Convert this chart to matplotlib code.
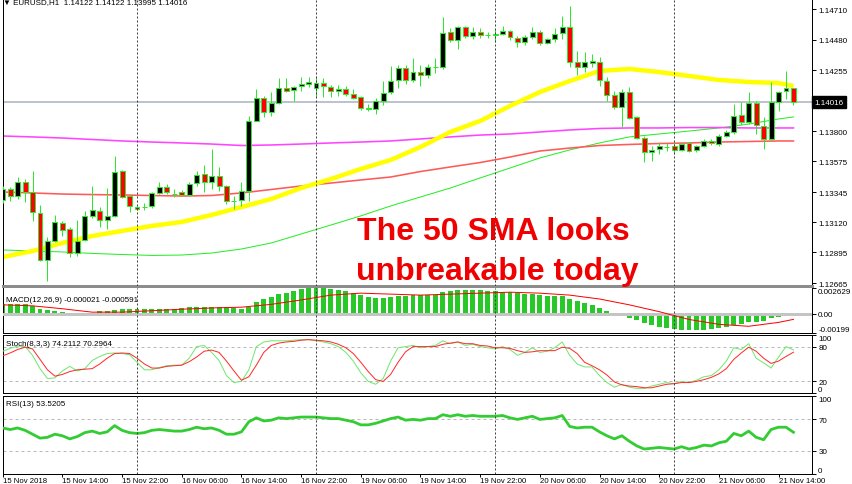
import numpy as np
import matplotlib
matplotlib.use('Agg')
import matplotlib.pyplot as plt
from matplotlib.transforms import blended_transform_factory

plt.rcParams['font.family'] = ['Liberation Sans', 'DejaVu Sans']

W, H = 852, 485

## ローソク足 EURUSD H1 (15 Nov 06:00 - 21 Nov 16:00)
opens = [
    1.13285, 1.13368, 1.13315, 1.13420, 1.13345, 1.13189, 1.12838, 1.12980, 1.13115, 1.13070,
    1.12890, 1.12987, 1.13167, 1.13204, 1.13137, 1.13167, 1.13502, 1.13315, 1.13233, 1.13233,
    1.13241, 1.13338, 1.13382, 1.13330, 1.13345, 1.13323, 1.13412, 1.13480, 1.13420, 1.13465,
    1.13390, 1.13278, 1.13285, 1.13353, 1.13875, 1.14047, 1.13942, 1.14009, 1.14121, 1.14106,
    1.14136, 1.14151, 1.14121, 1.14158, 1.14129, 1.14099, 1.14114, 1.14076, 1.14054, 1.13972,
    1.13964, 1.14024, 1.14091, 1.14181, 1.14270, 1.14181, 1.14240, 1.14218, 1.14278, 1.14278,
    1.14539, 1.14479, 1.14576, 1.14509, 1.14539, 1.14516, 1.14520, 1.14524, 1.14546, 1.14494,
    1.14464, 1.14502, 1.14539, 1.14457, 1.14487, 1.14531, 1.14576, 1.14315, 1.14278, 1.14307,
    1.14315, 1.14173, 1.14069, 1.13979, 1.14091, 1.13905, 1.13748, 1.13644, 1.13666, 1.13681,
    1.13689, 1.13659, 1.13711, 1.13659, 1.13689, 1.13726, 1.13703, 1.13763, 1.13793, 1.13920,
    1.13867, 1.14009, 1.13838, 1.13741, 1.14017, 1.14099, 1.14122]
highs = [
    1.13390, 1.13382, 1.13457, 1.13442, 1.13502, 1.13248, 1.13010, 1.13174, 1.13129, 1.13085,
    1.13137, 1.13204, 1.13390, 1.13233, 1.13375, 1.13614, 1.13509, 1.13330, 1.13241, 1.13263,
    1.13345, 1.13420, 1.13405, 1.13368, 1.13360, 1.13420, 1.13502, 1.13547, 1.13666, 1.13532,
    1.13397, 1.13315, 1.13420, 1.13912, 1.14114, 1.14061, 1.14091, 1.14196, 1.14196, 1.14136,
    1.14203, 1.14203, 1.14211, 1.14196, 1.14143, 1.14143, 1.14136, 1.14114, 1.14061, 1.14002,
    1.14047, 1.14173, 1.14285, 1.14293, 1.14293, 1.14345, 1.14293, 1.14300, 1.14345, 1.14651,
    1.14569, 1.14584, 1.14584, 1.14576, 1.14569, 1.14539, 1.14561, 1.14584, 1.14554, 1.14509,
    1.14516, 1.14576, 1.14554, 1.14494, 1.14569, 1.14658, 1.14733, 1.14397, 1.14390, 1.14375,
    1.14352, 1.14203, 1.14099, 1.14114, 1.14129, 1.13912, 1.13763, 1.13689, 1.13718, 1.13711,
    1.13718, 1.13718, 1.13718, 1.13696, 1.13741, 1.13741, 1.13778, 1.13808, 1.14002, 1.14017,
    1.14091, 1.14024, 1.13905, 1.14166, 1.14099, 1.14248, 1.14122]
lows = [
    1.13263, 1.13278, 1.13293, 1.13271, 1.13129, 1.12830, 1.12681, 1.12972, 1.13017, 1.12860,
    1.12868, 1.12980, 1.13152, 1.13085, 1.13070, 1.13159, 1.13300, 1.13196, 1.13211, 1.13211,
    1.13226, 1.13330, 1.13330, 1.13308, 1.13315, 1.13315, 1.13390, 1.13345, 1.13368, 1.13353,
    1.13256, 1.13219, 1.13241, 1.13278, 1.13875, 1.13905, 1.13912, 1.14002, 1.14091, 1.14024,
    1.14099, 1.14129, 1.14054, 1.14054, 1.14054, 1.14061, 1.14061, 1.14039, 1.13957, 1.13949,
    1.13927, 1.13994, 1.14076, 1.14121, 1.14151, 1.14166, 1.14136, 1.14196, 1.14233, 1.14263,
    1.14464, 1.14412, 1.14494, 1.14487, 1.14494, 1.14494, 1.14464, 1.14516, 1.14479, 1.14427,
    1.14442, 1.14487, 1.14442, 1.14449, 1.14464, 1.14487, 1.14278, 1.14218, 1.14240, 1.14278,
    1.14136, 1.14024, 1.13964, 1.13830, 1.13890, 1.13741, 1.13569, 1.13577, 1.13629, 1.13651,
    1.13629, 1.13651, 1.13644, 1.13644, 1.13681, 1.13696, 1.13689, 1.13756, 1.13778, 1.13845,
    1.13852, 1.13778, 1.13666, 1.13726, 1.13949, 1.14039, 1.13995]
closes = [
    1.13368, 1.13315, 1.13420, 1.13345, 1.13196, 1.12838, 1.12980, 1.13122, 1.13062, 1.12890,
    1.12980, 1.13167, 1.13211, 1.13137, 1.13167, 1.13494, 1.13308, 1.13241, 1.13219, 1.13233,
    1.13338, 1.13382, 1.13345, 1.13330, 1.13323, 1.13405, 1.13472, 1.13420, 1.13465, 1.13390,
    1.13278, 1.13278, 1.13353, 1.13875, 1.14047, 1.13942, 1.14009, 1.14121, 1.14099, 1.14129,
    1.14151, 1.14166, 1.14158, 1.14136, 1.14099, 1.14114, 1.14076, 1.14047, 1.13972, 1.13968,
    1.14024, 1.14084, 1.14173, 1.14270, 1.14181, 1.14240, 1.14218, 1.14278, 1.14281, 1.14531,
    1.14479, 1.14576, 1.14509, 1.14539, 1.14516, 1.14516, 1.14524, 1.14546, 1.14502, 1.14464,
    1.14502, 1.14539, 1.14457, 1.14487, 1.14524, 1.14576, 1.14315, 1.14278, 1.14315, 1.14322,
    1.14181, 1.14069, 1.13979, 1.14091, 1.13897, 1.13748, 1.13644, 1.13659, 1.13689, 1.13681,
    1.13659, 1.13703, 1.13651, 1.13689, 1.13726, 1.13711, 1.13763, 1.13793, 1.13912, 1.13867,
    1.14009, 1.13845, 1.13741, 1.14017, 1.14091, 1.14121, 1.14016]

time_labels = ['15 Nov 2018', '15 Nov 14:00', '15 Nov 22:00', '16 Nov 06:00', '16 Nov 14:00',
               '16 Nov 22:00', '19 Nov 06:00', '19 Nov 14:00', '19 Nov 22:00', '20 Nov 06:00',
               '20 Nov 14:00', '20 Nov 22:00', '21 Nov 06:00', '21 Nov 14:00']
label_bars = list(range(0, 105, 8))
day_breaks = [18, 42, 66, 90]   # 日付の区切り

## 移動平均 (4本おきに読み取り)
ma_bars = [0, 4, 8, 12, 16, 20, 24, 28, 32, 36, 40, 44, 48, 52, 56, 60, 64, 68, 72, 76,
           80, 84, 88, 92, 96, 100, 104, 106]
ma_yellow = [1.12860, 1.12905, 1.12965, 1.13017, 1.13055, 1.13092, 1.13122, 1.13174, 1.13233, 1.13293,
             1.13375, 1.13442, 1.13517, 1.13584, 1.13681, 1.13793, 1.13875, 1.13987, 1.14091, 1.14173,
             1.14248, 1.14263, 1.14240, 1.14211, 1.14181, 1.14166, 1.14158, 1.14136]
ma_magenta = [1.13763, 1.13756, 1.13748, 1.13737, 1.13726, 1.13718, 1.13711, 1.13703, 1.13692, 1.13696,
              1.13703, 1.13711, 1.13718, 1.13726, 1.13741, 1.13756, 1.13770, 1.13778, 1.13793, 1.13808,
              1.13819, 1.13823, 1.13823, 1.13826, 1.13826, 1.13823, 1.13823, 1.13823]
ma_red = [1.13345, 1.13338, 1.13330, 1.13326, 1.13323, 1.13319, 1.13315, 1.13319, 1.13338, 1.13364,
          1.13390, 1.13412, 1.13435, 1.13457, 1.13498, 1.13532, 1.13565, 1.13606, 1.13651, 1.13673,
          1.13692, 1.13700, 1.13707, 1.13711, 1.13718, 1.13722, 1.13726, 1.13726]
ma_green = [1.12913, 1.12905, 1.12898, 1.12887, 1.12879, 1.12872, 1.12875, 1.12890, 1.12920, 1.12965,
            1.13032, 1.13099, 1.13167, 1.13241, 1.13308, 1.13375, 1.13450, 1.13524, 1.13599, 1.13659,
            1.13711, 1.13756, 1.13778, 1.13800, 1.13823, 1.13852, 1.13890, 1.13905]

price_ticks = [1.14710, 1.14480, 1.14255, 1.13800, 1.13575, 1.13345, 1.13120, 1.12895, 1.12665]
last_price = 1.14016
price_range = (1.12644, 1.14785)

## MACD(12,26,9)
macd_main = [
    0.00101, 0.00101, 0.00101, 0.00101, 0.00080, 0.00045, 0.00040, 0.00027, 0.00015, 0.00005,
    0.00002, 0.00005, 0.00010, 0.00025, 0.00027, 0.00038, 0.00045, 0.00045, 0.00045, 0.00045,
    0.00045, 0.00045, 0.00048, 0.00048, 0.00055, 0.00065, 0.00070, 0.00070, 0.00070, 0.00070,
    0.00065, 0.00055, 0.00045, 0.00070, 0.00120, 0.00145, 0.00170, 0.00200, 0.00210, 0.00230,
    0.00250, 0.00260, 0.00263, 0.00260, 0.00250, 0.00240, 0.00230, 0.00210, 0.00190, 0.00170,
    0.00160, 0.00160, 0.00170, 0.00180, 0.00180, 0.00190, 0.00190, 0.00190, 0.00190, 0.00220,
    0.00230, 0.00240, 0.00240, 0.00240, 0.00240, 0.00230, 0.00230, 0.00220, 0.00220, 0.00210,
    0.00200, 0.00200, 0.00190, 0.00180, 0.00180, 0.00180, 0.00150, 0.00130, 0.00110, 0.00090,
    0.00060, 0.00030, 0.00000, -0.00010, -0.00040, -0.00070, -0.00100, -0.00120, -0.00140, -0.00150,
    -0.00160, -0.00170, -0.00170, -0.00170, -0.00170, -0.00160, -0.00150, -0.00140, -0.00120, -0.00110,
    -0.00090, -0.00090, -0.00080, -0.00050, -0.00030, -0.00010, -0.000021]
macd_signal = [0.00090, 0.00080, 0.00050, 0.00015, 0.00015, 0.00030, 0.00045, 0.00058, 0.00066, 0.00095,
               0.00140, 0.00190, 0.00210, 0.00200, 0.00190, 0.00200, 0.00210, 0.00220, 0.00210, 0.00190,
               0.00150, 0.00090, 0.00020, -0.00060, -0.00110, -0.00130, -0.00090, -0.000591]
macd_range = (-0.00199, 0.002629)

## Stoch(8,3,3)
stoch_k = [72, 77, 81, 80, 65, 42, 25, 26, 38, 46,
           38, 42, 56, 63, 68, 69, 68, 66, 53, 40,
           40, 44, 47, 48, 48, 60, 80, 82, 70, 56,
           30, 18, 20, 40, 80, 88, 90, 90, 90, 91,
           92, 92, 90, 88, 85, 80, 70, 55, 35, 20,
           15, 25, 55, 78, 80, 82, 78, 80, 82, 90,
           85, 88, 82, 84, 80, 78, 76, 80, 75, 65,
           70, 78, 70, 72, 78, 88, 65, 50, 45, 45,
           30, 18, 10, 15, 10, 8, 8, 12, 15, 18,
           16, 20, 18, 22, 28, 30, 40, 55, 78, 75,
           85, 60, 52, 43, 62, 80, 74.2112]
stoch_d = [64, 69, 75, 79, 76, 58, 40, 29, 32, 37,
           40, 41, 42, 50, 60, 68, 69, 68, 60, 50,
           43, 43, 46, 47, 48, 54, 62, 72, 74, 70,
           55, 38, 22, 28, 48, 70, 82, 86, 88, 89,
           91, 92, 91, 90, 88, 84, 78, 68, 53, 37,
           23, 20, 32, 53, 71, 80, 80, 80, 80, 84,
           86, 88, 85, 85, 82, 81, 78, 78, 77, 73,
           70, 71, 73, 73, 73, 79, 77, 68, 53, 47,
           40, 31, 19, 14, 12, 11, 9, 9, 12, 15,
           16, 18, 18, 20, 23, 27, 33, 42, 58, 69,
           79, 72, 60, 51, 55, 63, 70.2964]

## RSI(13)
rsi = [59, 57, 59, 56, 51, 46, 47, 51, 49, 45,
       48, 53, 55, 52, 54, 62, 56, 53, 52, 53,
       56, 57, 56, 55, 55, 57, 60, 58, 59, 56,
       51, 51, 54, 67, 72, 68, 69, 72, 71, 72,
       73, 73, 73, 72, 71, 71, 69, 67, 63, 63,
       65, 68, 71, 73, 69, 70, 69, 71, 71, 76,
       74, 76, 74, 75, 74, 74, 74, 75, 72, 70,
       72, 74, 70, 71, 72, 75, 61, 59, 60, 60,
       54, 49, 45, 49, 42, 36, 32, 33, 34, 33,
       32, 35, 32, 34, 37, 36, 40, 42, 52, 49,
       55, 47, 44, 57, 60, 60, 53.5205]

# 色
WICK = '#2ee82e'
BEAR = '#ff0000'
BULL = '#000000'
PX = 0.72  # 1px を pt に
FS = 5.8   # 軸ラベルの文字サイズ

fig = plt.figure(figsize=(W / 100, H / 100), dpi=100)


def panel(y0, y1, x0=2.5, x1=812):
    """ピクセル座標 (上から) でパネルを作る"""
    ax = fig.add_axes([x0 / W, 1 - y1 / H, (x1 - x0) / W, (y1 - y0) / H])
    ax.set_xlim((x0 - 2.7) / 7.46, (x1 - 2.7) / 7.46)
    ax.yaxis.tick_right()
    ax.tick_params(axis='y', direction='out', length=3, width=0.7, labelsize=FS, pad=1.5)
    ax.set_xticks([])
    for s in ax.spines.values():
        s.set_linewidth(1 * PX)
    for b in day_breaks:
        ax.axvline(b, color='#404040', lw=1 * PX, ls=(0, (2, 2)), zorder=6)
    return ax


def ftext(px, py, s, **kw):
    fig.text(px / W, 1 - py / H, s, **kw)


# --- メインチャート
ax = panel(0, 287)
ax.set_ylim(*price_range)
ax.spines['top'].set_visible(False)
ax.spines['bottom'].set_color('#8c8c8c')
ax.spines['bottom'].set_linewidth(3 * PX)

ax.axhline(last_price, color='#a8b0bc', lw=1.5 * PX, zorder=1)
ax.plot(ma_bars, ma_green, color='#22ee22', lw=1 * PX, zorder=2)
ax.plot(ma_bars, ma_red, color='#ff5a5a', lw=1.6 * PX, zorder=2)
ax.plot(ma_bars, ma_magenta, color='#ff44ff', lw=1.6 * PX, zorder=2)
ax.plot(ma_bars, ma_yellow, color='#ffff00', lw=4.5 * PX, zorder=2, solid_capstyle='butt')

x = np.arange(len(opens))
o, h, l, c = (np.array(v) for v in (opens, highs, lows, closes))
up = c >= o
ax.vlines(x, l, h, color=WICK, lw=1 * PX, zorder=3)
ax.bar(x, np.maximum(np.abs(c - o), 0.00001), bottom=np.minimum(o, c), width=0.66,
       color=np.where(up, BULL, BEAR), edgecolor=WICK, linewidth=1 * PX, zorder=4)

ax.set_yticks(price_ticks)
ax.set_yticklabels([f'{p:.5f}' for p in price_ticks])
tr = blended_transform_factory(ax.transAxes, ax.transData)
ax.text(1.003, last_price, f'{last_price:.5f}', transform=tr, ha='left', va='center',
        color='white', fontsize=FS, zorder=10,
        bbox=dict(boxstyle='square,pad=0.3', fc='black', ec='black'))

# --- MACD
ax_m = panel(289, 334)
ax_m.set_ylim(*macd_range)
ax_m.spines['top'].set_visible(False)
ax_m.bar(x, macd_main, width=0.66, color='#27c827', zorder=2)
ax_m.axhline(0, color='#c4c4c4', lw=3 * PX, zorder=3)
ax_m.plot(ma_bars, macd_signal, color='#ff0000', lw=1 * PX, zorder=4)
ax_m.set_yticks([macd_range[1], 0, macd_range[0]])
ax_m.set_yticklabels(['0.002629', '0.00', '-0.00199'])

# --- Stoch
ax_s = panel(336, 394)
ax_s.set_ylim(0, 100)
for lv in (80, 20):
    ax_s.axhline(lv, color='#b8b8b8', lw=1 * PX, ls=(0, (3, 3)), zorder=1)
ax_s.plot(x, stoch_k, color='#6fe86f', lw=1 * PX, zorder=3)
ax_s.plot(x, stoch_d, color='#ff2a2a', lw=1 * PX, zorder=3)
ax_s.set_yticks([100, 80, 20, 0])

# --- RSI
ax_r = panel(397, 475)
ax_r.set_ylim(0, 100)
for lv in (70, 30):
    ax_r.axhline(lv, color='#b8b8b8', lw=1 * PX, ls=(0, (3, 3)), zorder=1)
ax_r.plot(x, rsi, color='#33cc33', lw=2.8 * PX, zorder=3)
ax_r.set_yticks([100, 70, 30, 0])
ax_r.set_xticks(label_bars)
ax_r.set_xticklabels(time_labels, ha='left')
ax_r.tick_params(axis='x', direction='out', length=2, width=0.7, labelsize=5.6, pad=0.3)

# 上下端のラベルはパネル内側に寄せる
for a in (ax_m, ax_s, ax_r):
    labs = a.get_yticklabels()
    labs[0].set_va('top')
    labs[-1].set_va('bottom')

# --- テキスト
ftext(3, 4, '\u25bc EURUSD,H1  1.14122 1.14122 1.13995 1.14016', fontsize=FS, va='baseline')
ftext(6, 300, 'MACD(12,26,9) -0.000021 -0.000591', fontsize=FS, va='center')
ftext(6, 345, 'Stoch(8,3,3) 74.2112 70.2964', fontsize=FS, va='center')
ftext(6, 405, 'RSI(13) 53.5205', fontsize=FS, va='center')
ftext(357, 240, 'The 50 SMA looks', fontsize=23, fontweight='bold', color='#f00000', va='baseline')
ftext(356, 280, 'unbreakable today', fontsize=23, fontweight='bold', color='#f00000', va='baseline')

fig.savefig('out.png', dpi=100)
